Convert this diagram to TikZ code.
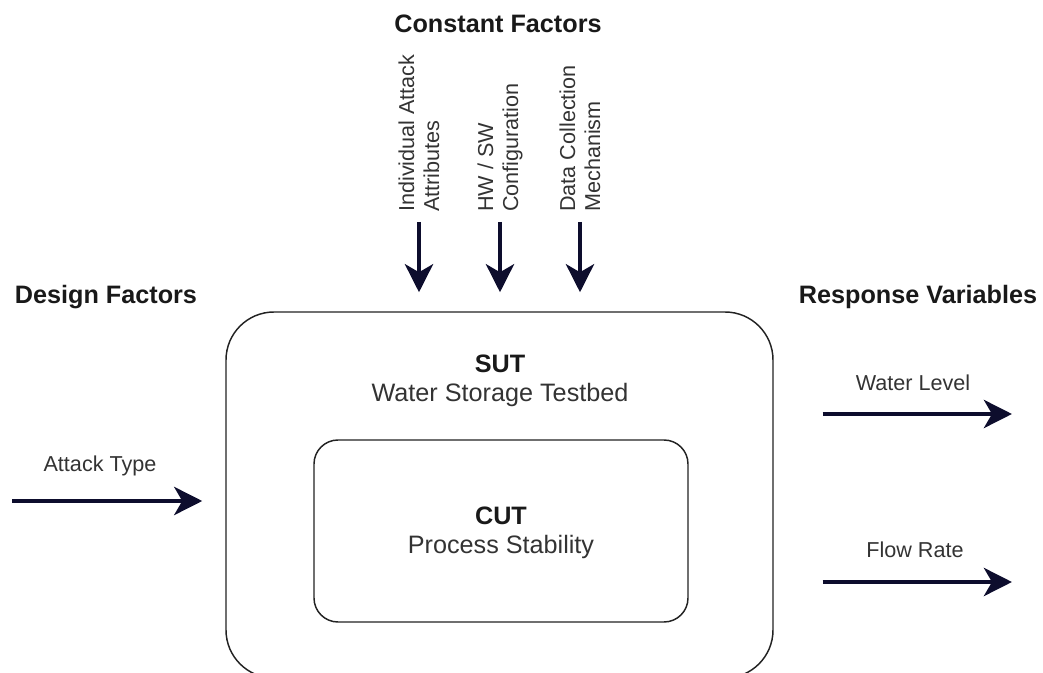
\documentclass[tikz,border=0pt]{standalone}
\usepackage{fontspec}
\setmainfont{Liberation Sans}
\usepackage{xcolor}
\definecolor{navy}{HTML}{0D0D2D}
\definecolor{txtgray}{HTML}{333333}
\definecolor{boxline}{HTML}{222222}
\usepackage{tikz}
\usetikzlibrary{calc,positioning,arrows.meta}
\tikzset{
  head/.style={text=black!90, font=\fontsize{18.9}{21.75}\selectfont\bfseries},
  small/.style={text=txtgray, font=\fontsize{16.2}{18.75}\selectfont, inner sep=0pt},
  big/.style={text=txtgray, align=center, font=\fontsize{18.9}{21.75}\selectfont},
  factor/.style={small, rotate=90, anchor=west, align=left},
  sutbox/.style={rectangle, draw=boxline, line width=1.1pt, rounded corners=36pt,
    minimum width=410.25pt, minimum height=274.5pt},
  cutbox/.style={rectangle, draw=boxline, line width=1.1pt, rounded corners=18pt,
    minimum width=280.5pt, minimum height=136.5pt},
  flow/.style={draw=navy, line width=3.6pt, -{Stealth[length=21pt, width=21pt, inset=6pt]}},
}

\begin{document}
\begin{tikzpicture}[x=0.75pt, y=-0.75pt]
  \useasboundingbox (0,0) rectangle (1043,673);
  \clip (0,0) rectangle (1043,673);

  %boxes
  \node[sutbox] (sut) at (499.5,495) {};
  \node[cutbox] (cut) at (501,531) {};
  \node[big] (sutlbl) at (500,381) {\textcolor{black!90}{\bfseries SUT}\\Water Storage Testbed};
  \node[big] (cutlbl) at (501,533) {\textcolor{black!90}{\bfseries CUT}\\Process Stability};

  %headings
  \node[head] (const) at (498,24) {Constant Factors};
  \node[head] (design) at (106,297) {Design Factors};
  \node[head] (resp) at (918,297) {Response Variables};

  %constant factors
  \node[factor] (attr) at (419,212) {Individual Attack\\Attributes};
  \node[factor] (hwsw) at (500,212) {HW / SW\\Configuration};
  \node[factor] (coll) at (580,212) {Data Collection\\Mechanism};

  %design factor
  \node[small] (atype) at (100,466) {Attack Type};
  \coordinate (ain) at (12,501);

  %response variables
  \node[small] (level) at (913,383) {Water Level};
  \node[small] (rate) at (915,550) {Flow Rate};
  \coordinate (lout) at (1012,414);
  \coordinate (rout) at (1012,582);

  \path[every edge/.append style={flow}]
    (attr.west) edge[shorten <=7.5pt, shorten >=14.25pt] (attr.west |- sut.north)
    (hwsw.west) edge[shorten <=7.5pt, shorten >=14.25pt] (hwsw.west |- sut.north)
    (coll.west) edge[shorten <=7.5pt, shorten >=14.25pt] (coll.west |- sut.north)
    (ain) edge[shorten >=17.25pt] (sut.west |- ain)
    (sut.east |- lout) edge[shorten <=36.75pt] (lout)
    (sut.east |- rout) edge[shorten <=36.75pt] (rout);
\end{tikzpicture}
\end{document}
